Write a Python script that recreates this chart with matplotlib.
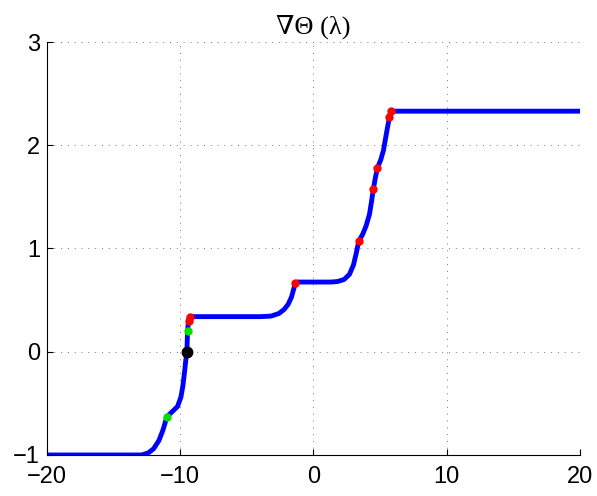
import matplotlib
matplotlib.use("Agg")
import matplotlib.pyplot as plt

# curve
lam = [-20, -12.9, -12.4, -12.0, -11.6, -11.3, -11.0, -10.6, -10.2, -9.95, -9.8,
       -9.68, -9.58, -9.5, -9.45, -9.38, -9.3, -9.0, -4.0, -3.2, -2.6, -2.2, -1.9,
       -1.65, -1.5, -1.35, -1.2, 1.3, 1.8, 2.3, 2.7, 3.0, 3.2, 3.4, 3.7, 3.95, 4.2,
       4.35, 4.5, 4.65, 4.8, 5.05, 5.25, 5.4, 5.55, 5.7, 5.8, 20]
theta = [-1, -1, -0.98, -0.94, -0.86, -0.76, -0.63, -0.58, -0.53, -0.44, -0.33,
         -0.20, -0.08, 0.0, 0.20, 0.30, 0.34, 0.34, 0.34, 0.345, 0.37, 0.41, 0.46,
         0.53, 0.60, 0.67, 0.675, 0.675, 0.68, 0.70, 0.75, 0.84, 0.95, 1.07, 1.14, 1.22, 1.33,
         1.45, 1.58, 1.69, 1.78, 1.86, 1.95, 2.06, 2.17, 2.27, 2.33, 2.33]

red_x = [-9.35, -9.27, -1.35, 3.4, 4.5, 4.8, 5.7, 5.8]
red_y = [0.30, 0.34, 0.67, 1.07, 1.58, 1.78, 2.27, 2.33]
green_x = [-11.0, -9.45]
green_y = [-0.63, 0.20]
black_x = [-9.52]
black_y = [0.0]

fig = plt.figure(figsize=(5.97, 4.96), dpi=100)
ax = fig.add_axes([0.0787, 0.0827, 0.8928, 0.8326])

ax.plot(lam, theta, color="#0000ff", linewidth=3.5, zorder=2)
ax.plot(red_x, red_y, "o", color="#ff0000", markersize=5, zorder=3)
ax.plot(green_x, green_y, "o", color="#00e000", markersize=5, zorder=3)
ax.plot(black_x, black_y, "o", color="black", markersize=7.5, zorder=4)

ax.set_xlim(-20, 20)
ax.set_ylim(-1, 3)
ax.set_xticks([-20, -10, 0, 10, 20])
ax.set_yticks([-1, 0, 1, 2, 3])
ax.grid(True, linestyle=(0, (1, 6)), color="#777777", linewidth=0.7)
ax.spines["top"].set_visible(False)
ax.spines["right"].set_visible(False)
ax.tick_params(direction="in", labelsize=17, length=4)
ax.tick_params(axis="x", pad=8)
ax.tick_params(axis="y", pad=5)
for lbl in ax.get_xticklabels() + ax.get_yticklabels():
    lbl.set_family("Liberation Sans")

ax.set_title("\u2207\u0398 (\u03bb)", family=["Liberation Serif", "DejaVu Serif"],
             fontsize=19, pad=6)

fig.savefig("out.png", dpi=100)
